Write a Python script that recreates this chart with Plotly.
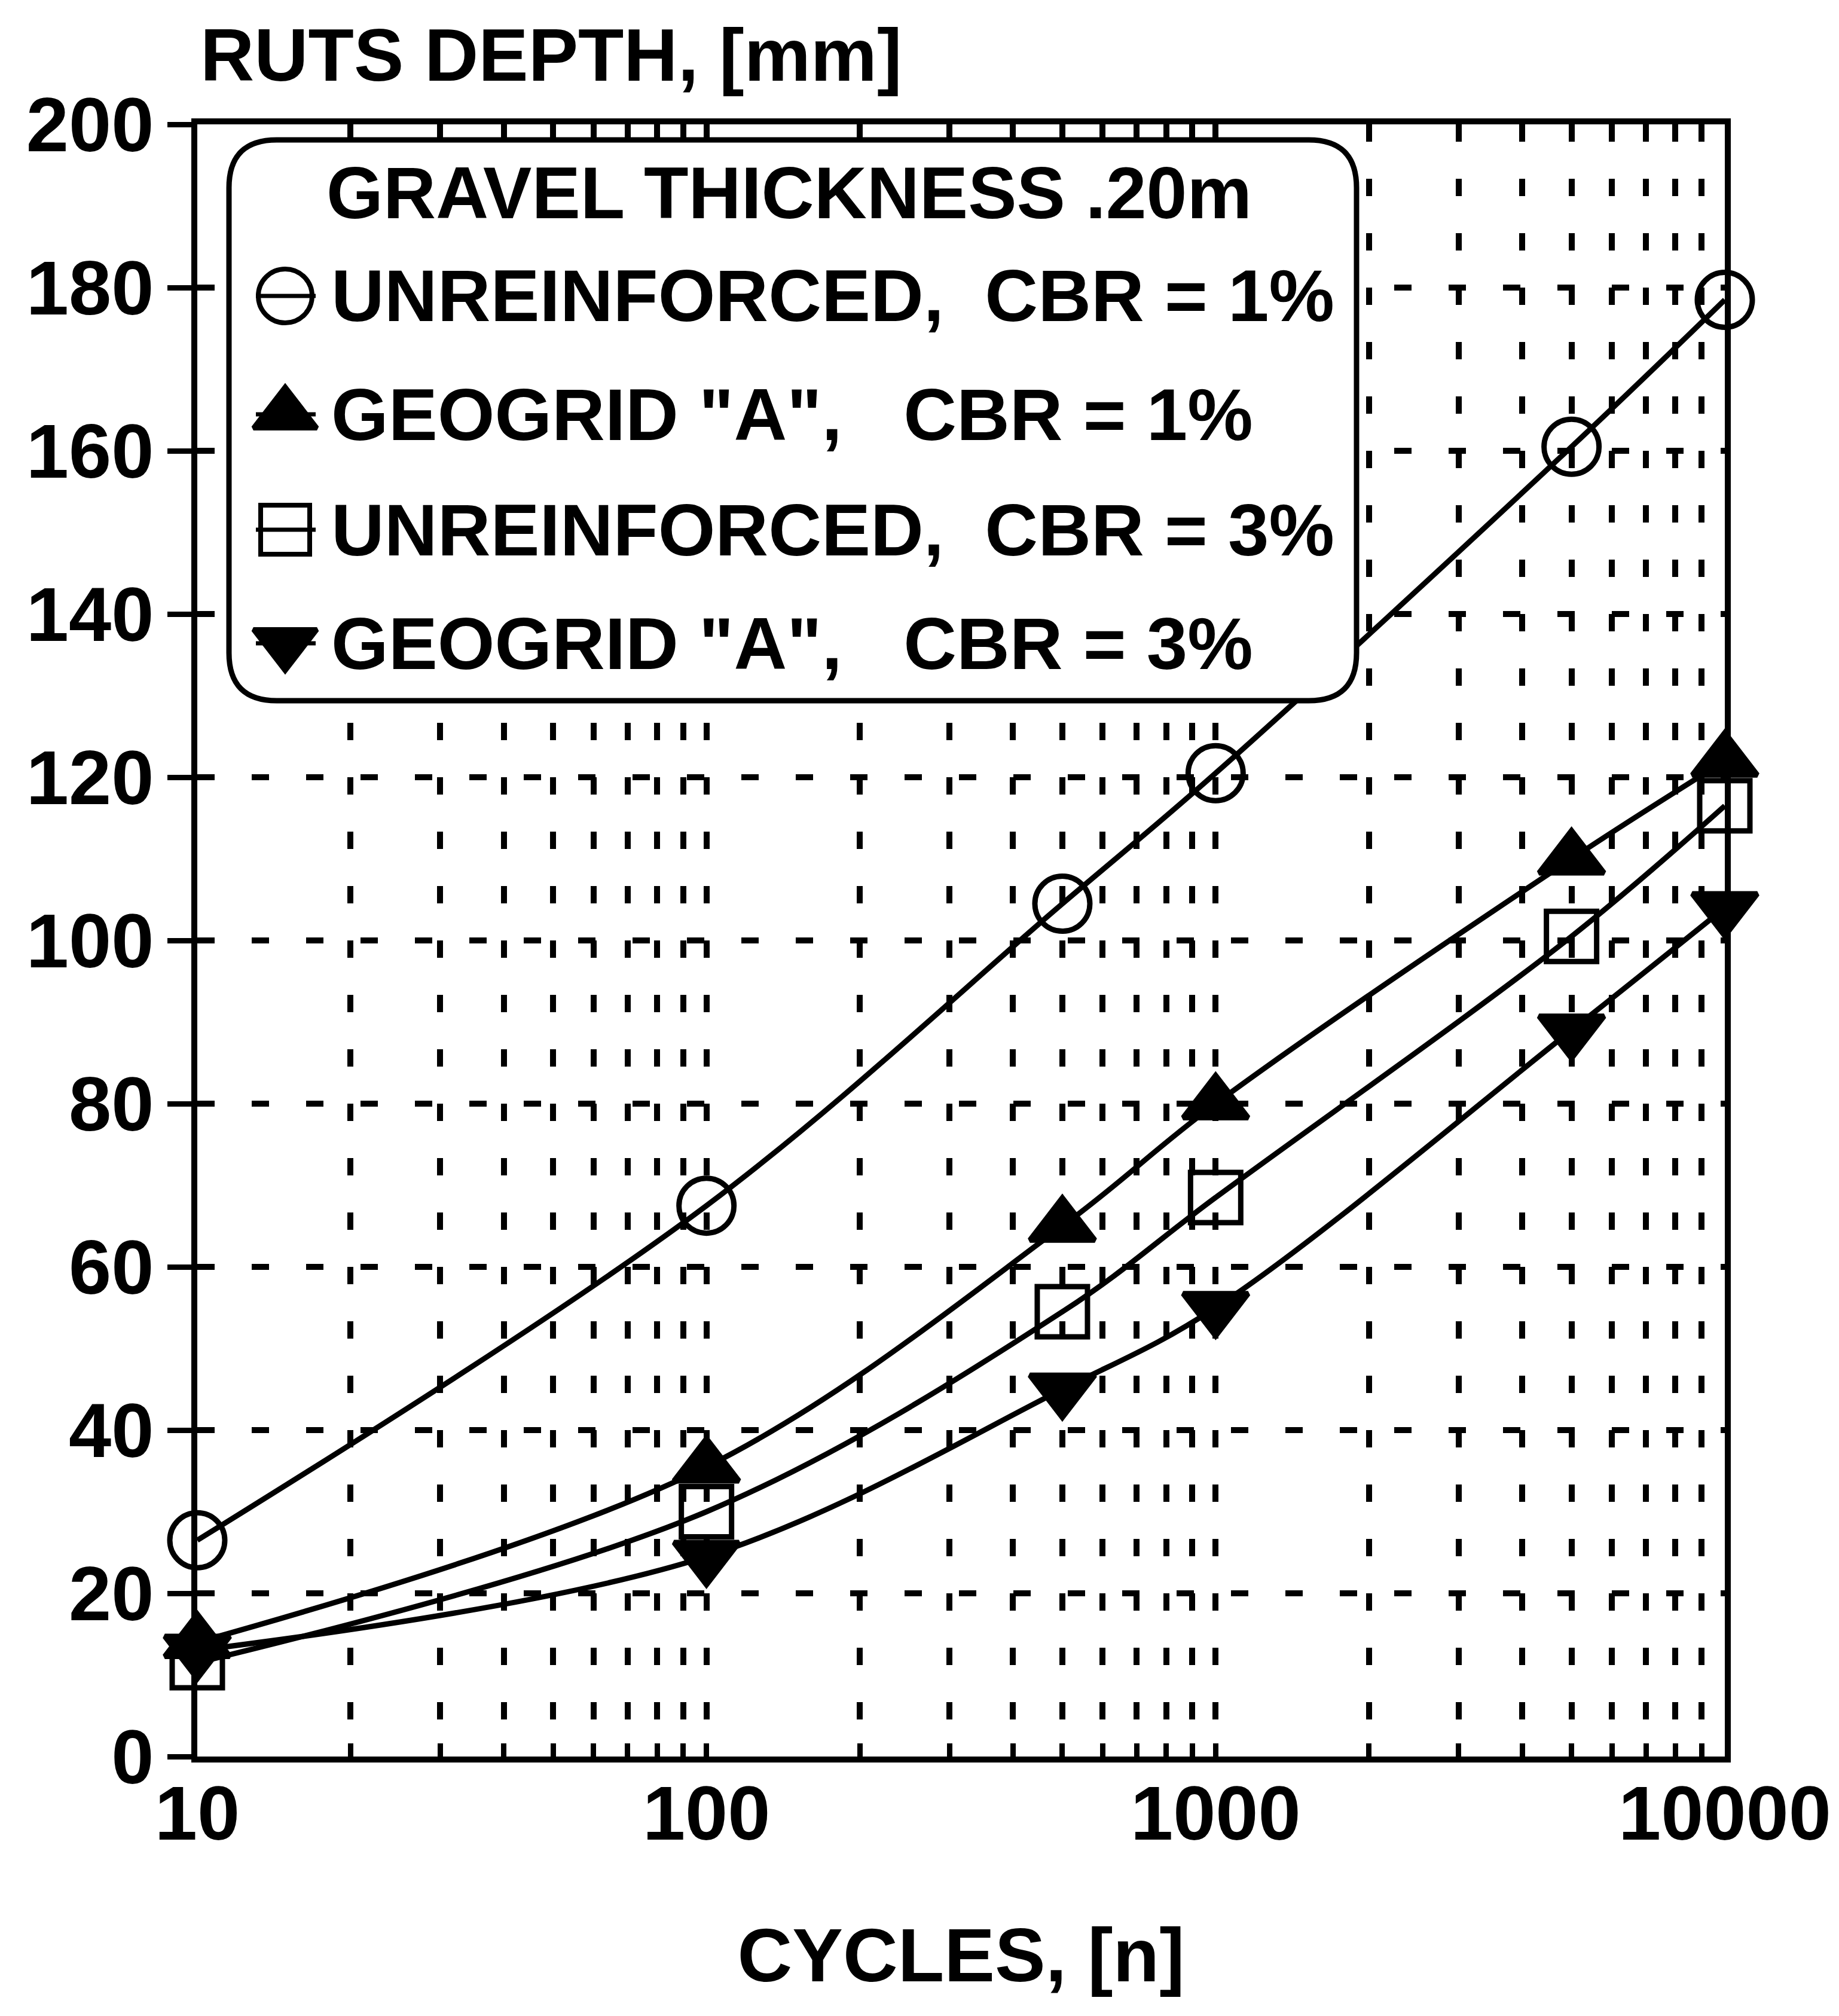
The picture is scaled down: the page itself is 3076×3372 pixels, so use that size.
import plotly.graph_objects as go

# ---------------- data ----------------
cycles = [10, 100, 500, 1000, 5000, 10000]
unreinforced_cbr1 = [26.5, 67.5, 104.5, 120.5, 160.5, 178.5]
geogrid_a_cbr1 = [14, 35.5, 65, 80, 110, 122]
unreinforced_cbr3 = [11.5, 30, 54.5, 68.5, 100.5, 116.5]
geogrid_a_cbr3 = [13, 24.5, 45, 55, 89, 104]

series_names = [
    "UNREINFORCED,\u00a0\u00a0CBR = 1%",
    'GEOGRID "A",\u00a0\u00a0\u00a0CBR = 1%',
    "UNREINFORCED,\u00a0\u00a0CBR = 3%",
    'GEOGRID "A",\u00a0\u00a0\u00a0CBR = 3%',
]
legend_title = "GRAVEL THICKNESS .20m"
x_title = "CYCLES, [n]"
y_title = "RUTS DEPTH, [mm]"
x_tickvals = [10, 100, 1000, 10000]
x_ticktext = ["10", "100", "1000", "10000"]
y_tickvals = [0, 20, 40, 60, 80, 100, 120, 140, 160, 180, 200]

# ---------------- styles ----------------
FONT = "Liberation Sans, Arial, Helvetica, sans-serif"
BLACK = "black"
series_values = [unreinforced_cbr1, geogrid_a_cbr1, unreinforced_cbr3, geogrid_a_cbr3]
symbols = ["circle-open", "triangle-up", "square-open", "triangle-down"]
sizes = [92, 94, 84, 94]

W, H = 3076, 3372
L, R, T, B = 330, 191, 208, 434

fig = go.Figure()

for name, vals, sym, sz in zip(series_names, series_values, symbols, sizes):
    fig.add_trace(go.Scatter(
        x=cycles, y=vals, name=name, mode="lines+markers",
        line=dict(color=BLACK, width=9, shape="spline", smoothing=1.0),
        marker=dict(symbol=sym, size=sz, color=BLACK,
                    line=dict(color=BLACK, width=9)),
        cliponaxis=False, showlegend=False,
    ))

# ---------- hand-drawn legend (in an overlaid unit subplot) ----------
def px_x(px):
    return (px - L) / (W - L - R)

def px_y(py):
    return (H - B - py) / (H - T - B)

row_px = [495, 693, 886, 1076]
sym_x = px_x(477)
seg_x0, seg_x1 = px_x(428), px_x(528)
text_x = px_x(552)
leg_sizes = [90, 92, 82, 92]

for name, sym, sz, ry in zip(series_names, symbols, leg_sizes, row_px):
    yy = px_y(ry)
    fig.add_trace(go.Scatter(
        x=[seg_x0, seg_x1], y=[yy, yy], mode="lines",
        line=dict(color=BLACK, width=7), xaxis="x2", yaxis="y2",
        showlegend=False, hoverinfo="skip", cliponaxis=False,
    ))
    fig.add_trace(go.Scatter(
        x=[sym_x], y=[yy], mode="markers",
        marker=dict(symbol=sym, size=sz, color=BLACK, line=dict(color=BLACK, width=8)),
        xaxis="x2", yaxis="y2", showlegend=False, hoverinfo="skip", cliponaxis=False,
    ))
    fig.add_annotation(
        x=text_x, y=yy, xref="paper", yref="paper", text=name, showarrow=False,
        xanchor="left", yanchor="middle",
        font=dict(family=FONT, size=123, color=BLACK, weight="bold"),
    )

fig.add_annotation(
    x=px_x(1320), y=px_y(323), xref="paper", yref="paper", text=legend_title,
    showarrow=False, xanchor="center", yanchor="middle",
    font=dict(family=FONT, size=122, color=BLACK, weight="bold"),
)

# rounded legend box
bx0, bx1 = px_x(383), px_x(2269)
byt, byb = px_y(234), px_y(1172)
rx = 80 / (W - L - R)
ry = 80 / (H - T - B)
path = (f"M {bx0 + rx},{byt} L {bx1 - rx},{byt} Q {bx1},{byt} {bx1},{byt - ry} "
        f"L {bx1},{byb + ry} Q {bx1},{byb} {bx1 - rx},{byb} "
        f"L {bx0 + rx},{byb} Q {bx0},{byb} {bx0},{byb + ry} "
        f"L {bx0},{byt - ry} Q {bx0},{byt} {bx0 + rx},{byt} Z")
fig.add_shape(type="path", path=path, xref="x2", yref="y2", layer="between",
              fillcolor="white", line=dict(color=BLACK, width=9))

# y axis title at the top-left
fig.add_annotation(
    x=px_x(333), y=px_y(92), xref="paper", yref="paper", text=y_title,
    showarrow=False, xanchor="left", yanchor="middle",
    font=dict(family=FONT, size=125, color=BLACK, weight="bold"),
)

grid_dash = "29px,62px"
tickfont = dict(family=FONT, size=128, color=BLACK, weight="bold")

fig.update_layout(
    width=W, height=H,
    margin=dict(l=L, r=R, t=T, b=B, pad=0),
    paper_bgcolor="white", plot_bgcolor="rgba(0,0,0,0)",
    showlegend=False,
    xaxis=dict(
        type="log", range=[1, 4], tickmode="array", tickvals=x_tickvals, ticktext=x_ticktext,
        showline=True, linewidth=10, linecolor=BLACK, mirror=True,
        ticks="inside", ticklen=22, tickwidth=9, tickcolor=BLACK,
        showgrid=True, gridcolor=BLACK, gridwidth=10, griddash=grid_dash,
        minor=dict(dtick="D1", showgrid=True, gridcolor=BLACK, gridwidth=10,
                   griddash=grid_dash, ticks="inside", ticklen=22, tickwidth=9,
                   tickcolor=BLACK),
        zeroline=False, tickfont=tickfont, ticklabelstandoff=-25,
        title=dict(text=x_title, font=dict(family=FONT, size=127, color=BLACK, weight="bold"),
                   standoff=126),
    ),
    yaxis=dict(
        range=[0, 200], tickmode="array", tickvals=y_tickvals,
        showline=True, linewidth=10, linecolor=BLACK, mirror=True,
        ticks="outside", ticklen=40, tickwidth=9, tickcolor=BLACK,
        showgrid=True, gridcolor=BLACK, gridwidth=10, griddash=grid_dash,
        zeroline=False, tickfont=tickfont, ticklabelstandoff=-3,
    ),
    xaxis2=dict(domain=[0, 1], range=[0, 1], anchor="y2", visible=False, fixedrange=True),
    yaxis2=dict(domain=[0, 1], range=[0, 1], anchor="x2", visible=False, fixedrange=True),
)

fig.write_html("out.html")
